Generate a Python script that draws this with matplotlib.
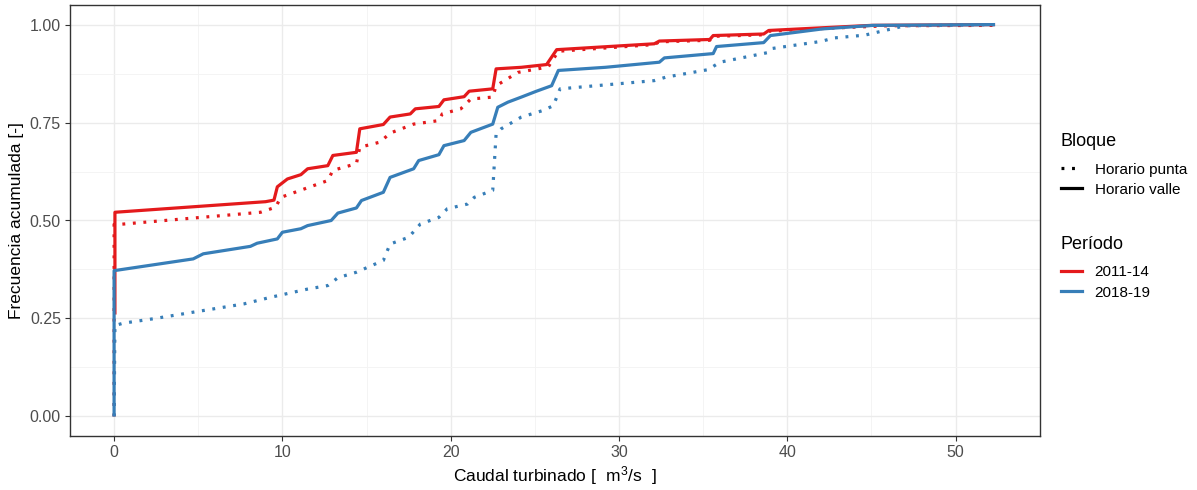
import matplotlib
matplotlib.use("Agg")
import matplotlib.pyplot as plt
from matplotlib.lines import Line2D
from matplotlib.ticker import MultipleLocator, FormatStrFormatter

plt.rcParams["font.family"] = ["Liberation Sans", "DejaVu Sans"]

# Cumulative frequency curves of turbined flow, by period and time block
q_2011_valle = [0.05, 0.05, 0.05, 9.0, 9.5, 9.7, 10.3, 11.1, 11.5, 12.7, 13.0, 14.4, 14.6,
                16.0, 16.4, 17.6, 17.9, 19.3, 19.6, 20.8, 21.1, 22.5, 22.7, 24.2, 25.7,
                26.3, 32.1, 32.4, 35.4, 35.6, 38.6, 38.9, 42.6, 45.0, 52.35]
f_2011_valle = [0.26, 0.40, 0.521, 0.548, 0.552, 0.586, 0.606, 0.617, 0.632, 0.640, 0.666,
                0.674, 0.734, 0.745, 0.764, 0.772, 0.785, 0.791, 0.808, 0.816, 0.830,
                0.836, 0.887, 0.891, 0.898, 0.936, 0.951, 0.958, 0.962, 0.972, 0.976,
                0.985, 0.993, 0.998, 1.0]

q_2011_punta = [0.0, 0.0, 0.3, 8.7, 9.6, 9.9, 12.7, 13.0, 14.4, 14.6, 15.8, 16.4, 17.8,
                19.3, 19.5, 20.6, 21.2, 22.5, 22.7, 24.0, 25.8, 26.4, 27.4, 32.1, 32.4,
                35.4, 35.6, 38.6, 38.9, 42.6, 46.0, 52.3]
f_2011_punta = [0.0, 0.49, 0.49, 0.521, 0.534, 0.559, 0.602, 0.628, 0.645, 0.687, 0.700,
                0.723, 0.746, 0.755, 0.772, 0.785, 0.810, 0.815, 0.844, 0.878, 0.892,
                0.932, 0.935, 0.949, 0.956, 0.960, 0.970, 0.974, 0.983, 0.991, 0.997, 0.998]

q_2018_valle = [0.0, 0.0, 4.7, 5.3, 8.1, 8.5, 9.7, 10.0, 11.1, 11.5, 12.9, 13.3, 14.4,
                14.7, 16.0, 16.4, 17.8, 18.1, 19.3, 19.6, 20.8, 21.2, 22.5, 22.8, 23.4,
                24.2, 25.1, 26.0, 26.4, 29.2, 32.4, 32.7, 35.6, 35.8, 38.6, 39.0, 42.1,
                45.1, 52.35]
f_2018_valle = [0.0, 0.372, 0.402, 0.415, 0.434, 0.442, 0.453, 0.470, 0.479, 0.487, 0.500,
                0.519, 0.532, 0.551, 0.572, 0.610, 0.632, 0.653, 0.668, 0.691, 0.704,
                0.725, 0.746, 0.789, 0.802, 0.815, 0.830, 0.844, 0.883, 0.891, 0.904,
                0.915, 0.926, 0.944, 0.954, 0.972, 0.989, 0.998, 1.0]

q_2018_punta = [0.0, 0.05, 0.55, 2.3, 4.7, 7.7, 9.3, 11.5, 12.7, 13.3, 14.4, 16.0, 16.4,
                17.5, 18.2, 19.3, 19.8, 21.0, 21.4, 22.5, 22.7, 23.0, 24.2, 25.5, 26.1,
                26.5, 32.1, 32.8, 35.3, 36.0, 38.9, 39.1, 42.0, 42.8, 44.6, 45.3, 47.0, 52.3]
f_2018_punta = [0.0, 0.232, 0.238, 0.249, 0.266, 0.287, 0.304, 0.325, 0.334, 0.354, 0.368,
                0.398, 0.440, 0.457, 0.491, 0.508, 0.530, 0.542, 0.559, 0.577, 0.721,
                0.734, 0.764, 0.781, 0.793, 0.836, 0.857, 0.866, 0.885, 0.904, 0.929,
                0.939, 0.957, 0.966, 0.973, 0.980, 0.997, 1.0]

periodos = ["2011-14", "2018-19"]
bloques = ["Horario punta", "Horario valle"]
colores = {"2011-14": "#E41A1C", "2018-19": "#377EB8"}

fig = plt.figure(figsize=(11.97, 4.90), dpi=100)
ax = fig.add_axes([70 / 1197, 54 / 490, 970 / 1197, 431 / 490])

lw = 2.3
dot_style = (0, (0.9, 2.4))
series = [
    (q_2011_punta, f_2011_punta, "2011-14", dot_style),
    (q_2011_valle, f_2011_valle, "2011-14", "-"),
    (q_2018_punta, f_2018_punta, "2018-19", dot_style),
    (q_2018_valle, f_2018_valle, "2018-19", "-"),
]
for q, f, per, ls in series:
    ax.plot(q, f, color=colores[per], linestyle=ls, lw=lw,
            solid_capstyle="butt", dash_capstyle="butt", zorder=3)

# ggplot-like bw theme
xmax = 52.4
ax.set_xlim(-0.05 * xmax, xmax * 1.05)
ax.set_ylim(-0.05, 1.05)
ax.xaxis.set_major_locator(MultipleLocator(10))
ax.xaxis.set_minor_locator(MultipleLocator(5))
ax.yaxis.set_major_locator(MultipleLocator(0.25))
ax.yaxis.set_minor_locator(MultipleLocator(0.125))
ax.yaxis.set_major_formatter(FormatStrFormatter("%.2f"))
ax.grid(which="major", color="#EBEBEB", lw=1.0, zorder=0)
ax.grid(which="minor", color="#F3F3F3", lw=0.6, zorder=0)
ax.set_axisbelow(True)
for s in ax.spines.values():
    s.set_color("#333333")
    s.set_linewidth(1.0)
ax.tick_params(which="major", length=3.5, width=0.8, color="#333333",
               labelcolor="#4D4D4D", labelsize=11.5, pad=3)
ax.tick_params(which="minor", length=0)

ax.set_xlabel(r"Caudal turbinado [ $\mathregular{\ m^3/s\ }$ ]", fontsize=12.5,
              color="black", labelpad=3)
ax.set_ylabel("Frecuencia acumulada [-]", fontsize=12.5, color="black", labelpad=4)

# Legends
h_bloque = [Line2D([], [], color="black", lw=lw, linestyle=dot_style, dash_capstyle="butt"),
            Line2D([], [], color="black", lw=lw)]
h_periodo = [Line2D([], [], color=colores[p], lw=lw) for p in periodos]

leg_kw = dict(frameon=False, loc="upper left", fontsize=11, title_fontsize=13,
              handlelength=1.4, handletextpad=0.8, labelspacing=0.4,
              borderpad=0, borderaxespad=0, alignment="left")
leg1 = fig.legend(h_bloque, bloques, title="Bloque",
                  bbox_to_anchor=(1061 / 1197, 1 - 133 / 490), **leg_kw)
leg2 = fig.legend(h_periodo, periodos, title="Período",
                  bbox_to_anchor=(1061 / 1197, 1 - 236 / 490), **leg_kw)
for lg in (leg1, leg2):
    lg._legend_box.sep = 9

fig.savefig("out.png", dpi=100)
